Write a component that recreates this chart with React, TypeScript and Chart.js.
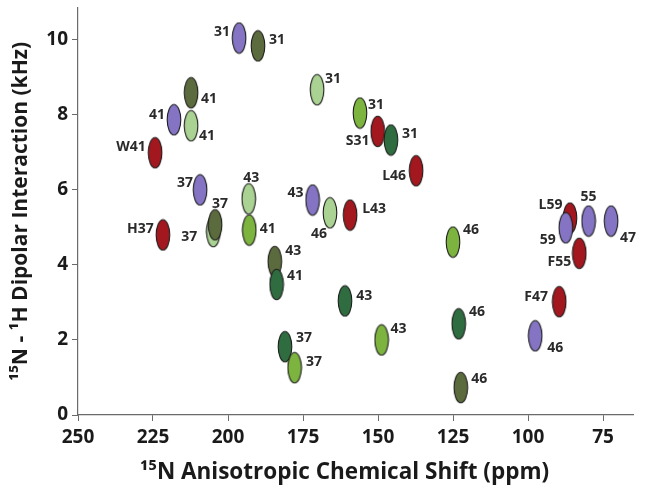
import React, { useEffect, useRef } from "react";
import { Chart, registerables } from "chart.js";

Chart.register(...registerables);

// ---------- Data (x = 15N shift in ppm, y = dipolar coupling in kHz) ----------
const PURPLE_LABELS = ["31", "41", "37", "43", "59", "55", "47", "46"];
const PURPLE_X = [196.3, 218.0, 209.3, 171.8, 87.4, 79.8, 72.3, 97.6];
const PURPLE_Y = [10.05, 7.87, 6.0, 5.73, 4.99, 5.17, 5.17, 2.11];

const YGREEN_LABELS = ["41", "31", "46", "37", "43"];
const YGREEN_X = [192.9, 156.0, 125.0, 177.8, 148.8];
const YGREEN_Y = [4.93, 8.05, 4.61, 1.26, 2.0];

const DGREEN_LABELS = ["31", "41", "37", "43", "46"];
const DGREEN_X = [145.7, 183.8, 181.0, 161.0, 123.1];
const DGREEN_Y = [7.33, 3.48, 1.82, 3.04, 2.43];

const OLIVE_LABELS = ["31", "41", "37", "43", "46"];
const OLIVE_X = [190.0, 212.3, 204.3, 184.4, 122.4];
const OLIVE_Y = [9.84, 8.59, 5.07, 4.09, 0.73];

const LGREEN_LABELS = ["41", "43", "37", "31", "46"];
const LGREEN_X = [212.3, 193.1, 204.9, 170.3, 166.0];
const LGREEN_Y = [7.71, 5.76, 4.89, 8.67, 5.39];

const RED_LABELS = ["W41", "H37", "L43", "S31", "L46", "L59", "F55", "F47"];
const RED_X = [224.3, 221.7, 159.3, 150.1, 137.3, 86.0, 82.9, 89.6];
const RED_Y = [6.99, 4.8, 5.33, 7.56, 6.51, 5.25, 4.31, 3.02];

const X_TICK_VALUES = [250, 225, 200, 175, 150, 125, 100, 75];
const Y_TICK_VALUES = [0, 2, 4, 6, 8, 10];

const X_TITLE = "¹⁵N Anisotropic Chemical Shift (ppm)";
const Y_TITLE = "¹⁵N - ¹H Dipolar Interaction (kHz)";

// ---------- Label placement (pixel offsets of label centre from the point) ----------
const PURPLE_LABEL_OFFSETS = [[-17, -6], [-17, -5], [-15, -7], [-17, -7], [-18, 12], [0, -24], [17, 17], [20, 12]];
const YGREEN_LABEL_OFFSETS = [[18.5, -1], [16, -8], [18, -12], [19.5, -5.5], [17, -10.5]];
const DGREEN_LABEL_OFFSETS = [[19, -6.5], [18.5, -8.5], [19, -8.7], [19.3, -5], [18.3, -11.5]];
const OLIVE_LABEL_OFFSETS = [[19, -5.5], [18, 6.5], [5, -21], [18.5, -10.5], [18.5, -9]];
const LGREEN_LABEL_OFFSETS = [[16, 10.5], [2.5, -21], [-24, 5], [16, -10.5], [-11, 21]];
const RED_LABEL_OFFSETS = [[-24, -5.5], [-22.5, -5.5], [24, -6], [-20, 10], [-22, 5], [-19.5, -13], [-20, 9], [-23, -4.5]];

// ---------- Styles ----------
const COLORS = {
  purple: "#8474c3",
  ygreen: "#7db43f",
  dgreen: "#2f6d40",
  olive: "#5c6b3d",
  lgreen: "#aad292",
  red: "#a3171f",
};

const FONT = "'Open Sans', 'Noto Sans', 'DejaVu Sans', sans-serif";

function makeEllipse(fill: string): HTMLCanvasElement {
  const c = document.createElement("canvas");
  c.width = 16;
  c.height = 33;
  const g = c.getContext("2d")!;
  g.beginPath();
  g.ellipse(8, 16.5, 6.8, 15.3, 0, 0, Math.PI * 2);
  g.fillStyle = fill;
  g.fill();
  g.lineWidth = 1.1;
  g.strokeStyle = "#1e1e1e";
  g.stroke();
  return c;
}

function toPoints(xs: number[], ys: number[]) {
  return xs.map((x, i) => ({ x, y: ys[i] }));
}

const pointLabelPlugin = {
  id: "pointLabels",
  afterDatasetsDraw(chart: any) {
    const ctx = chart.ctx;
    ctx.save();
    ctx.font = `bold 14px ${FONT}`;
    ctx.fillStyle = "#2a2a2a";
    ctx.textAlign = "center";
    ctx.textBaseline = "middle";
    chart.data.datasets.forEach((ds: any, di: number) => {
      const meta = chart.getDatasetMeta(di);
      meta.data.forEach((el: any, i: number) => {
        const off = ds.labelOffsets[i];
        ctx.fillText(ds.pointLabels[i], el.x + off[0], el.y + off[1]);
      });
    });
    ctx.restore();
  },
};

// x-axis title, centred slightly left of the axis centre as in the reference
const xTitlePlugin = {
  id: "xTitle",
  afterDraw(chart: any) {
    const ctx = chart.ctx;
    const area = chart.chartArea;
    ctx.save();
    ctx.font = `bold 22.5px ${FONT}`;
    ctx.fillStyle = "#1a1a1a";
    ctx.textAlign = "center";
    ctx.textBaseline = "alphabetic";
    ctx.fillText(X_TITLE, (area.left + area.right) / 2 - 11, chart.height - 16);
    ctx.restore();
  },
};

export default function App() {
  const ref = useRef<HTMLCanvasElement>(null);

  useEffect(() => {
    if (!ref.current) return;
    const mk = (label: string, xs: number[], ys: number[], labels: string[], offs: number[][], color: string) => ({
      label,
      data: toPoints(xs, ys),
      pointStyle: makeEllipse(color),
      pointLabels: labels,
      labelOffsets: offs,
      showLine: false,
    });
    // earlier datasets are drawn on top
    const datasets: any[] = [
      mk("purple", PURPLE_X, PURPLE_Y, PURPLE_LABELS, PURPLE_LABEL_OFFSETS, COLORS.purple),
      mk("ygreen", YGREEN_X, YGREEN_Y, YGREEN_LABELS, YGREEN_LABEL_OFFSETS, COLORS.ygreen),
      mk("dgreen", DGREEN_X, DGREEN_Y, DGREEN_LABELS, DGREEN_LABEL_OFFSETS, COLORS.dgreen),
      mk("olive", OLIVE_X, OLIVE_Y, OLIVE_LABELS, OLIVE_LABEL_OFFSETS, COLORS.olive),
      mk("lgreen", LGREEN_X, LGREEN_Y, LGREEN_LABELS, LGREEN_LABEL_OFFSETS, COLORS.lgreen),
      mk("red", RED_X, RED_Y, RED_LABELS, RED_LABEL_OFFSETS, COLORS.red),
    ];

    const axisColor = "#6a6a6a";
    const chart = new Chart(ref.current, {
      type: "scatter",
      data: { datasets },
      plugins: [pointLabelPlugin, xTitlePlugin],
      options: {
        responsive: false,
        animation: false,
        events: [],
        layout: { padding: { top: 8, right: 12, left: 0, bottom: 0 } },
        plugins: { legend: { display: false }, tooltip: { enabled: false } },
        scales: {
          x: {
            type: "linear",
            reverse: true,
            min: 65,
            max: 250,
            afterBuildTicks: (scale: any) => {
              scale.ticks = X_TICK_VALUES.map((v) => ({ value: v }));
            },
            afterFit: (scale: any) => {
              scale.height = 80;
              scale.paddingLeft = 0;
              scale.paddingRight = 0;
            },
            grid: { drawOnChartArea: false, drawTicks: true, tickLength: 6, color: axisColor, lineWidth: 1 },
            border: { color: axisColor, width: 1.2 },
            ticks: {
              color: "#1a1a1a",
              padding: 5,
              maxRotation: 0,
              font: { family: FONT, size: 19, weight: "bold" },
            },
            title: { display: false },
          },
          y: {
            type: "linear",
            min: 0,
            max: 10.85,
            afterBuildTicks: (scale: any) => {
              scale.ticks = Y_TICK_VALUES.map((v) => ({ value: v }));
            },
            afterFit: (scale: any) => {
              scale.width = 78;
              scale.paddingTop = 0;
              scale.paddingBottom = 0;
            },
            grid: { drawOnChartArea: false, drawTicks: true, tickLength: 6, color: axisColor, lineWidth: 1 },
            border: { color: axisColor, width: 1.2 },
            ticks: {
              color: "#1a1a1a",
              padding: 4,
              font: { family: FONT, size: 19, weight: "bold" },
            },
            title: {
              display: true,
              text: Y_TITLE,
              color: "#1a1a1a",
              font: { family: FONT, size: 21, weight: "bold" },
              padding: { top: 8, bottom: 0 },
            },
          },
        },
      } as any,
    });
    return () => chart.destroy();
  }, []);

  return (
    <div style={{ position: "absolute", left: 0, top: 0, width: 645, height: 495, background: "#fff" }}>
      <canvas ref={ref} width={645} height={495} />
    </div>
  );
}
